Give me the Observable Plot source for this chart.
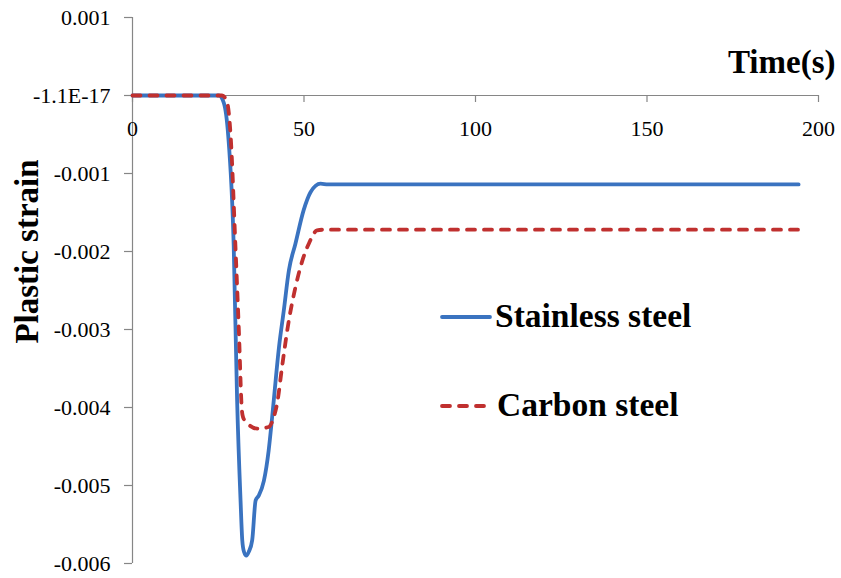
<!DOCTYPE html>
<html>
<head>
<meta charset="utf-8">
<script src="https://cdn.jsdelivr.net/npm/d3@7"></script>
<script src="https://cdn.jsdelivr.net/npm/@observablehq/plot@0.6"></script>
<style>
  html, body { margin: 0; padding: 0; background: #fff; }
  #wrap { position: relative; width: 841px; height: 578px; }
  #legend { position: absolute; left: 0; top: 0; pointer-events: none; }
</style>
</head>
<body>
<div id="wrap"></div>
<script>
// ---- Data ----
const seriesNames = ["Stainless steel", "Carbon steel"];

const timeStainless = [0, 24, 25.2, 26.6, 27.9, 29.5, 30.5, 31.5, 32.0, 32.5, 33.2, 33.9, 34.9, 35.9, 36.8, 38.3, 39.7, 40.7, 42.7, 44.1, 45.6, 47.5, 49.9, 51.9, 54.8, 57, 194.2];
const strainStainless = [0, 0, 0, -0.00009, -0.00051, -0.00192, -0.00391, -0.00519, -0.0057, -0.00585, -0.0059, -0.00585, -0.0057, -0.00519, -0.00513, -0.00494, -0.00455, -0.00413, -0.00323, -0.00276, -0.00224, -0.0019, -0.00147, -0.00124, -0.00113, -0.00114, -0.00114];

const timeCarbon = [0, 25, 26.1, 27.6, 28.6, 30.0, 31.0, 31.9, 32.2, 33.4, 36.4, 39.7, 41.2, 42.2, 43.6, 45.6, 47.5, 49.5, 51.4, 53.8, 56, 194.2];
const strainCarbon = [0, 0, 0, -0.00009, -0.00051, -0.00192, -0.003, -0.00404, -0.00412, -0.0042, -0.00427, -0.00425, -0.00412, -0.00394, -0.00348, -0.00288, -0.00246, -0.00212, -0.0019, -0.00173, -0.00172, -0.00172];

const xTicks = [0, 50, 100, 150, 200];
const xTickLabels = ["0", "50", "100", "150", "200"];
const yTicks = [0.001, 0, -0.001, -0.002, -0.003, -0.004, -0.005, -0.006];
const yTickLabels = ["0.001", "-1.1E-17", "-0.001", "-0.002", "-0.003", "-0.004", "-0.005", "-0.006"];
const xTitle = "Time(s)";
const yTitle = "Plastic strain";

// ---- Build tables ----
const stainless = timeStainless.map((t, i) => ({t, v: strainStainless[i]}));
const carbon = timeCarbon.map((t, i) => ({t, v: strainCarbon[i]}));

const blue = "#3a73c0";
const red = "#c0302f";
const gray = "#868686";
const serif = "Liberation Serif, Times New Roman, serif";

const chart = Plot.plot({
  width: 841,
  height: 578,
  marginLeft: 132,
  marginRight: 23,
  marginTop: 17,
  marginBottom: 15,
  x: {domain: [0, 200], axis: null},
  y: {domain: [-0.006, 0.001]},
  style: {fontFamily: serif, background: "white", color: "black"},
  marks: [
    Plot.ruleX([0], {stroke: gray, strokeWidth: 1.2}),
    Plot.ruleY([0], {stroke: gray, strokeWidth: 1.2}),
    Plot.ruleX(xTicks, {x: d => d, y1: 0, y2: 0, insetTop: 7, stroke: gray, strokeWidth: 1.2}),
    Plot.text(xTicks, {x: d => d, y: 0, text: (d, i) => xTickLabels[i], dy: 33, fontSize: 22, fontFamily: serif, fill: "black"}),
    Plot.axisY(yTicks, {
      label: null,
      tickSize: 8, tickPadding: 14,
      tickFormat: d => yTickLabels[yTicks.indexOf(d)],
      stroke: gray, fill: "black", fontSize: 22, fontFamily: serif, strokeWidth: 1.2
    }),
    Plot.text([xTitle], {frameAnchor: "top-right", dx: 17, dy: 55, lineAnchor: "bottom", textAnchor: "end", fontSize: 33, fontWeight: "bold", fontFamily: serif, fill: "black"}),
    Plot.text([yTitle], {frameAnchor: "left", textAnchor: "middle", lineAnchor: "middle", dx: -105, dy: -39, rotate: -90, fontSize: 33, fontWeight: "bold", fontFamily: serif, fill: "black"}),
    Plot.line(stainless, {x: "t", y: "v", stroke: blue, strokeWidth: 3.8, curve: "monotone-x", strokeLinejoin: "round", strokeLinecap: "round"}),
    Plot.line(carbon, {x: "t", y: "v", stroke: red, strokeWidth: 3.8, curve: "monotone-x", strokeDasharray: "8,9", strokeLinecap: "round", strokeLinejoin: "round"})
  ]
});

const wrap = document.getElementById("wrap");
wrap.appendChild(chart);

// ---- In-plot legend overlay ----
const ns = "http://www.w3.org/2000/svg";
const leg = document.createElementNS(ns, "svg");
leg.setAttribute("id", "legend");
leg.setAttribute("width", 841);
leg.setAttribute("height", 578);
const items = [
  {name: seriesNames[0], color: blue, dash: null, y: 317, x2: 490, tx: 495},
  {name: seriesNames[1], color: red, dash: "8,9", y: 406, x2: 486, tx: 497}
];
items.forEach(it => {
  const l = document.createElementNS(ns, "line");
  l.setAttribute("x1", 442); l.setAttribute("x2", it.x2);
  l.setAttribute("y1", it.y); l.setAttribute("y2", it.y);
  l.setAttribute("stroke", it.color);
  l.setAttribute("stroke-width", 3.8);
  l.setAttribute("stroke-linecap", "round");
  if (it.dash) l.setAttribute("stroke-dasharray", it.dash);
  leg.appendChild(l);
  const t = document.createElementNS(ns, "text");
  t.setAttribute("x", it.tx); t.setAttribute("y", it.y + 10);
  t.setAttribute("font-size", 33.5);
  t.setAttribute("font-weight", "bold");
  t.setAttribute("font-family", serif);
  t.setAttribute("fill", "black");
  t.textContent = it.name;
  leg.appendChild(t);
});
wrap.appendChild(leg);
</script>
</body>
</html>
